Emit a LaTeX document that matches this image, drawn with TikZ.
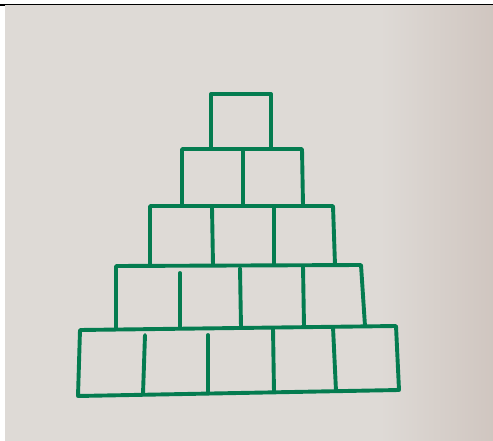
\documentclass[tikz,border=0pt]{standalone}
\usetikzlibrary{calc}
\definecolor{paper}{RGB}{222,218,214}
\definecolor{paperdark}{RGB}{208,198,192}
\definecolor{marker}{RGB}{4,124,80}
\tikzset{
  pen/.style={draw=marker, line width=3.9pt, line cap=round, line join=round},
}
\begin{document}
\begin{tikzpicture}[x=1pt,y=-1pt]
\useasboundingbox (0,0) rectangle (493,441);
% paper
\fill[white] (0,0) rectangle (493,441);
\fill[paper] (5,5) rectangle (493,441);
\shade[left color=paper, right color=paperdark] (380,5) rectangle (493,441);
\draw[black, line width=1.3pt] (0,4.5) -- (493,4.5);
\draw[black, line width=2.5pt] (0,5) -- (5,5);
% row 1
\draw[pen] (211,149) -- (211,94) -- (271,94) -- (271,149);
% row 2
\draw[pen] (182,205) -- (182,149) -- (302,149) -- (303,205);
\draw[pen] (243,150) -- (243,205);
% row 3
\draw[pen] (150,265) -- (150,206) -- (333,206) -- (335,265);
\draw[pen] (212,207) -- (213,265);
\draw[pen] (274,207) -- (274,265);
% row 4
\draw[pen] (116,329) -- (116,266) -- (361,265) -- (365,326);
\draw[pen] (180,273) -- (180,328);
\draw[pen] (240,268) -- (241,327);
\draw[pen] (303,266) -- (304,326);
% row 5
\draw[pen] (80,330) -- (396,326) -- (399,390) -- (78,396) -- cycle;
\draw[pen] (145,335) -- (143,394);
\draw[pen] (208,335) -- (208,393);
\draw[pen] (273,328) -- (274,392);
\draw[pen] (333,327) -- (336,391);
\end{tikzpicture}
\end{document}
